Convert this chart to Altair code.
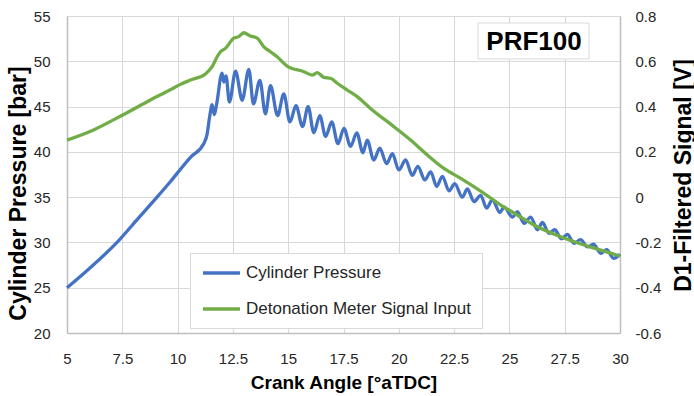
import altair as alt
import pandas as pd

# ---- data ----
angle_p = [5.0, 6.0, 7.26, 8.2, 9.07, 9.67, 10.58, 11.18, 11.33, 11.45, 11.56,
           11.66, 11.76, 12.01, 12.09, 12.19, 12.34, 12.62, 12.92, 13.22, 13.43,
           13.72, 13.97, 14.20, 14.52, 14.80, 15.08, 15.35, 15.65, 15.90, 16.16,
           16.43, 16.69, 16.97, 17.25, 17.52, 17.82, 18.10, 18.38, 18.57, 18.87,
           19.14, 19.45, 19.71, 20.00, 20.31, 20.61, 20.86, 21.18, 21.44, 21.71,
           21.97, 22.27, 22.53, 22.87, 23.10, 23.40, 23.70, 23.97, 24.23, 24.57,
           24.76, 25.14, 25.36, 25.66, 25.96, 26.27, 26.49, 26.79, 27.05, 27.35,
           27.62, 27.92, 28.22, 28.53, 28.80, 29.13, 29.40, 29.71, 30.0]
pressure = [25.0, 27.1, 30.0, 32.6, 35.0, 36.7, 39.4, 40.9, 41.9, 43.9, 45.2,
            44.1, 45.2, 48.7, 47.7, 48.4, 45.5, 48.9, 45.7, 49.1, 45.3,
            47.9, 44.2, 47.3, 44.0, 46.4, 43.3, 45.1, 42.8, 45.0, 42.1,
            44.0, 41.7, 43.3, 40.9, 42.6, 40.6, 42.1, 39.9, 41.3, 39.1,
            40.4, 38.7, 39.8, 38.0, 39.1, 37.4, 38.4, 36.9, 37.8, 36.2,
            37.3, 35.7, 36.5, 35.0, 35.9, 34.5, 35.2, 33.8, 34.7, 33.3,
            33.9, 32.8, 33.4, 32.1, 32.8, 31.4, 32.2, 31.0, 31.4, 30.4,
            30.9, 29.9, 30.3, 29.5, 29.8, 28.8, 29.2, 28.25, 28.7]

angle_s = [5.0, 6.2, 7.52, 8.77, 9.67, 10.13, 10.58, 11.26, 11.56, 11.79,
           11.94, 12.16, 12.54, 12.76, 12.99, 13.29, 13.60, 13.90, 14.20, 14.50,
           14.95, 15.71, 16.09, 16.31, 16.61, 16.91, 17.22, 17.67, 18.12, 18.72,
           19.78, 20.53, 21.29, 22.04, 22.80, 23.85, 24.61, 25.36, 26.11, 27.32,
           28.23, 29.13, 30.0]
signal = [0.252, 0.297, 0.363, 0.429, 0.474, 0.498, 0.517, 0.544, 0.576, 0.620,
          0.642, 0.657, 0.702, 0.709, 0.726, 0.712, 0.702, 0.664, 0.642, 0.620,
          0.579, 0.554, 0.539, 0.550, 0.529, 0.525, 0.503, 0.473, 0.444, 0.392,
          0.311, 0.252, 0.186, 0.127, 0.083, 0.017, -0.035, -0.079, -0.123, -0.175,
          -0.207, -0.234, -0.260]

series_names = ["Cylinder Pressure", "Detonation Meter Signal Input"]
series_colors = ["#4472C4", "#70AD47"]
x_ticks = [5, 7.5, 10, 12.5, 15, 17.5, 20, 22.5, 25, 27.5, 30]
p_ticks = [20, 25, 30, 35, 40, 45, 50, 55]
s_ticks = [-0.6, -0.4, -0.2, 0, 0.2, 0.4, 0.6, 0.8]
label_text = ["PRF100"]

dfp = pd.DataFrame({"angle": angle_p, "value": pressure, "series": series_names[0]})
dfs = pd.DataFrame({"angle": angle_s, "value": signal, "series": series_names[1]})
dfl = pd.DataFrame({"label": label_text})

FONT = "Liberation Sans"
W, H = 553, 317

color = alt.Color(
    "series:N",
    scale=alt.Scale(domain=series_names, range=series_colors),
    legend=alt.Legend(
        orient="none", legendX=123, legendY=237, direction="vertical",
        title=None, symbolType="M-1,0H4.28", symbolSize=196, symbolStrokeWidth=3.5,
        labelFont=FONT, labelFontSize=17, labelColor="#262626", labelOffset=27,
        rowPadding=19, padding=11, strokeColor="#d9d9d9", fillColor="white",
        labelLimit=400,
    ),
)

x_axis = alt.Axis(
    values=x_ticks, labelExpr="'' + datum.value", title="Crank Angle [°aTDC]",
    grid=True, gridColor="#d9d9d9", gridWidth=1, domainColor="#bfbfbf", domainWidth=1.5,
    ticks=False, tickSize=0, labelPadding=18, labelFlush=False, labelOverlap=False,
    labelFont=FONT, labelFontSize=15,
    labelColor="#262626", titleFont=FONT, titleFontSize=19, titleFontWeight="bold",
    titleColor="black", titleY=49, titleBaseline="middle",
)

left_axis = alt.Axis(
    values=p_ticks, title="Cylinder Pressure [bar]", grid=True, gridColor="#d9d9d9",
    gridWidth=1, domainColor="#bfbfbf", domainWidth=1.5, ticks=False, tickSize=0,
    labelPadding=17, labelFlush=False, labelFont=FONT, labelFontSize=15, labelColor="#262626",
    titleFont=FONT, titleFontSize=23, titleFontWeight="bold", titleColor="black",
    titleAngle=270, titleX=-49, titleY=177, titleAlign="center", titleBaseline="middle",
)

right_axis = alt.Axis(
    values=s_ticks, orient="right", title="D1-Filtered Signal [V]", grid=False,
    domainColor="#bfbfbf", domainWidth=1.5, ticks=False, tickSize=0, labelPadding=15,
    labelFlush=False,
    labelExpr="abs(datum.value) < 1e-9 ? '0' : (datum.value < 0 ? '-' : '') + format(abs(datum.value), '.1f')",
    labelFont=FONT, labelFontSize=15, labelColor="#262626",
    titleFont=FONT, titleFontSize=23, titleFontWeight="bold", titleColor="black",
    titleAngle=270, titleX=63, titleY=159, titleAlign="center", titleBaseline="middle",
)

x_enc = alt.X("angle:Q", scale=alt.Scale(domain=[5, 30], nice=False, zero=False), axis=x_axis)

pressure_line = alt.Chart(dfp).mark_line(strokeWidth=3.3, interpolate="monotone").encode(
    x=x_enc,
    y=alt.Y("value:Q", scale=alt.Scale(domain=[20, 55], nice=False, zero=False), axis=left_axis),
    color=color,
)

signal_line = alt.Chart(dfs).mark_line(strokeWidth=3.3, interpolate="monotone").encode(
    x=x_enc,
    y=alt.Y("value:Q", scale=alt.Scale(domain=[-0.6, 0.8], nice=False, zero=False), axis=right_axis),
    color=color,
)

label_box = alt.Chart(dfl).mark_rect(fill="white", stroke="#d9d9d9", strokeWidth=1).encode(
    x=alt.value(411), x2=alt.value(522), y=alt.value(7), y2=alt.value(43)
)
label_txt = alt.Chart(dfl).mark_text(
    font=FONT, fontSize=26, fontWeight="bold", color="black", align="center", baseline="middle"
).encode(x=alt.value(467), y=alt.value(26), text="label:N")

chart = (
    alt.layer(pressure_line, signal_line, label_box, label_txt)
    .resolve_scale(y="independent")
    .properties(
        width=W, height=H,
        padding={"left": 67, "top": 16, "right": 74, "bottom": 63},
        autosize=alt.AutoSizeParams(type="none"),
        background="white",
    )
    .configure_view(stroke=None)
)

chart.save("out.html", embed_options={"renderer": "svg", "actions": False})
